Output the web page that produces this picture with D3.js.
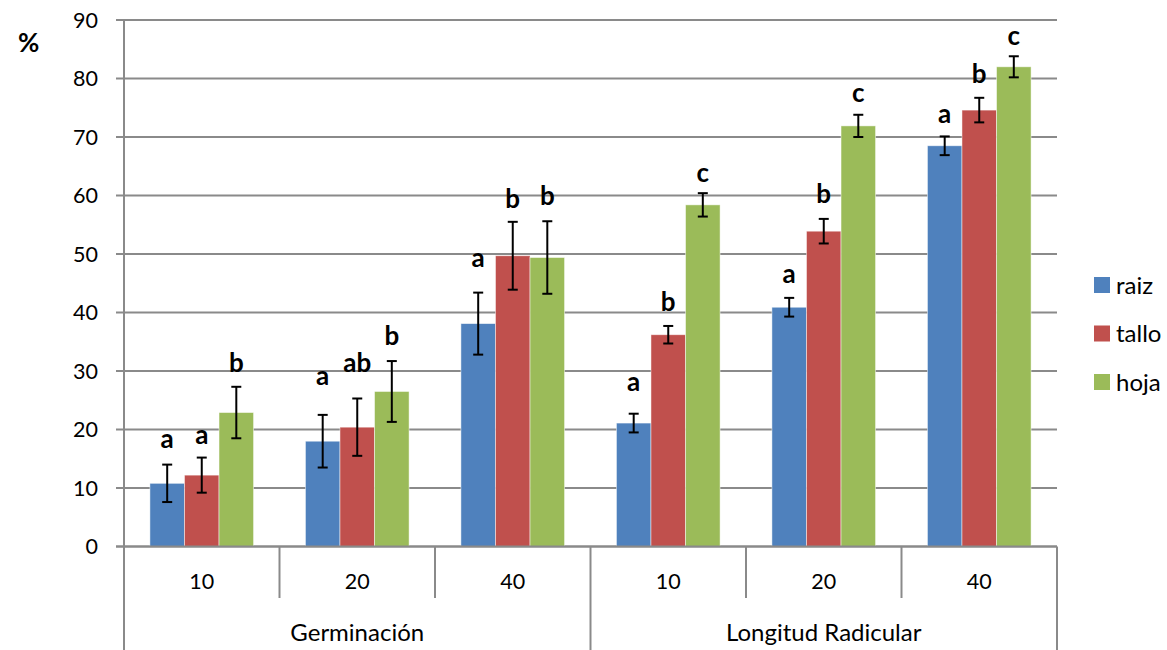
<!DOCTYPE html>
<html>
<head>
<meta charset="utf-8">
<script src="https://cdn.jsdelivr.net/npm/d3@7"></script>
<style>
  body { margin: 0; background: #fff; }
  text { font-family: Lato, "Open Sans", sans-serif; fill: #000; }
</style>
</head>
<body>
<svg id="chart" width="1167" height="650"></svg>
<script>
// data
const groups = ["Germinación", "Longitud Radicular"];
const doses = ["10", "20", "40"];
const series = ["raiz", "tallo", "hoja"];
const colors = ["#4F81BD", "#C0504D", "#9BBB59"];

const raiz  = [10.8, 18.0, 38.1, 21.1, 40.9, 68.5];
const tallo = [12.2, 20.4, 49.7, 36.2, 53.9, 74.6];
const hoja  = [22.9, 26.5, 49.4, 58.4, 71.9, 82.0];

const raizErr  = [3.2, 4.5, 5.3, 1.6, 1.6, 1.6];
const talloErr = [3.0, 4.9, 5.8, 1.5, 2.1, 2.1];
const hojaErr  = [4.4, 5.2, 6.2, 2.0, 1.9, 1.8];

const raizLetters  = ["a", "a", "a", "a", "a", "a"];
const talloLetters = ["a", "ab", "b", "b", "b", "b"];
const hojaLetters  = ["b", "b", "b", "c", "c", "c"];

// height (in %) where each letter sits
const raizLabelAt  = [16.8, 27.6, 47.8, 26.5, 45.0, 72.4];
const talloLabelAt = [17.5, 29.8, 57.9, 40.3, 58.7, 79.2];
const hojaLabelAt  = [29.8, 34.4, 58.4, 62.3, 76.0, 85.7];

const yTicks = d3.range(0, 91, 10);

// build rows
const cats = [];
groups.forEach(g => doses.forEach(d => cats.push(g + "|" + d)));

const values = [raiz, tallo, hoja];
const errs = [raizErr, talloErr, hojaErr];
const letters = [raizLetters, talloLetters, hojaLetters];
const labelAt = [raizLabelAt, talloLabelAt, hojaLabelAt];

const bars = [];
cats.forEach((c, i) => {
    series.forEach((s, j) => {
        bars.push({
            cat: c, s: s, j: j,
            v: values[j][i], e: errs[j][i],
            letter: letters[j][i], lab: labelAt[j][i]
        });
    });
});

const svg = d3.select("#chart");

const pLeft = 124, pRight = 1057, pTop = 20, pBottom = 546.5;

const x = d3.scaleBand().domain(cats).range([pLeft, pRight]).padding(0);
const xs = d3.scaleBand().domain(series).range([0, x.bandwidth()])
    .paddingInner(0).paddingOuter(0.75);
const y = d3.scaleLinear().domain([0, 90]).range([pBottom, pTop]);

const gridColor = "#8a8a8a";

// gridlines + y axis
svg.append("g")
    .selectAll("line")
    .data(yTicks)
    .enter()
    .append("line")
    .attr("x1", pLeft - 8)
    .attr("x2", pRight)
    .attr("y1", d => y(d))
    .attr("y2", d => y(d))
    .attr("stroke", gridColor)
    .attr("stroke-width", 2);

svg.append("g")
    .selectAll("text")
    .data(yTicks)
    .enter()
    .append("text")
    .attr("x", 98)
    .attr("y", d => y(d))
    .attr("dy", "0.36em")
    .attr("text-anchor", "end")
    .style("font-size", "21.5px")
    .text(d => d);

svg.append("line")
    .attr("x1", pLeft).attr("x2", pLeft)
    .attr("y1", pTop).attr("y2", 650)
    .attr("stroke", gridColor).attr("stroke-width", 2);

svg.append("text")
    .attr("x", 18)
    .attr("y", 52)
    .style("font-size", "26px")
    .style("font-weight", "bold")
    .text("%");

// bars
svg.append("g")
    .selectAll("rect")
    .data(bars)
    .enter()
    .append("rect")
    .attr("x", d => x(d.cat) + xs(d.s))
    .attr("width", xs.bandwidth())
    .attr("y", d => y(d.v))
    .attr("height", d => y(0) - y(d.v))
    .attr("fill", d => colors[d.j])
    .attr("stroke", "#fff")
    .attr("stroke-opacity", 0.6)
    .attr("stroke-width", 0.8);

// error bars
const eb = svg.append("g")
    .attr("stroke", "#000")
    .attr("stroke-width", 2)
    .selectAll("g")
    .data(bars)
    .enter()
    .append("g")
    .attr("transform", d => `translate(${x(d.cat) + xs(d.s) + xs.bandwidth() / 2},0)`);

eb.append("line")
    .attr("y1", d => y(d.v + d.e))
    .attr("y2", d => y(d.v - d.e));
eb.append("line")
    .attr("x1", -5).attr("x2", 5)
    .attr("y1", d => y(d.v + d.e))
    .attr("y2", d => y(d.v + d.e));
eb.append("line")
    .attr("x1", -5).attr("x2", 5)
    .attr("y1", d => y(d.v - d.e))
    .attr("y2", d => y(d.v - d.e));

// letters
svg.append("g")
    .selectAll("text")
    .data(bars)
    .enter()
    .append("text")
    .attr("x", d => x(d.cat) + xs(d.s) + xs.bandwidth() / 2)
    .attr("y", d => y(d.lab))
    .attr("text-anchor", "middle")
    .style("font-size", "26px")
    .style("font-weight", "bold")
    .text(d => d.letter);

// category axis
svg.append("line")
    .attr("x1", pLeft - 8).attr("x2", pRight)
    .attr("y1", pBottom).attr("y2", pBottom)
    .attr("stroke", gridColor).attr("stroke-width", 2);

const groupW = (pRight - pLeft) / groups.length;

svg.append("g")
    .selectAll("line")
    .data(cats.slice(1))
    .enter()
    .append("line")
    .attr("x1", d => x(d)).attr("x2", d => x(d))
    .attr("y1", pBottom)
    .attr("y2", (d, i) => (i + 1) % doses.length === 0 ? 650 : 598)
    .attr("stroke", gridColor).attr("stroke-width", 2);

svg.append("line")
    .attr("x1", pRight).attr("x2", pRight)
    .attr("y1", pBottom).attr("y2", 650)
    .attr("stroke", gridColor).attr("stroke-width", 2);

svg.append("g")
    .selectAll("text")
    .data(cats)
    .enter()
    .append("text")
    .attr("x", d => x(d) + x.bandwidth() / 2)
    .attr("y", 589)
    .attr("text-anchor", "middle")
    .style("font-size", "21.5px")
    .text(d => d.split("|")[1]);

svg.append("g")
    .selectAll("text")
    .data(groups)
    .enter()
    .append("text")
    .attr("x", (d, i) => pLeft + groupW * (i + 0.5))
    .attr("y", 641)
    .attr("text-anchor", "middle")
    .style("font-size", "24px")
    .text(d => d);

// legend
const legend = svg.append("g")
    .selectAll("g")
    .data(series)
    .enter()
    .append("g")
    .attr("transform", (d, i) => `translate(1094,${285 + i * 48.5})`);

legend.append("rect")
    .attr("x", 0).attr("y", -8)
    .attr("width", 16).attr("height", 16)
    .attr("fill", (d, i) => colors[i]);

legend.append("text")
    .attr("x", 22)
    .attr("dy", "0.36em")
    .style("font-size", "24px")
    .text(d => d);
</script>
</body>
</html>
